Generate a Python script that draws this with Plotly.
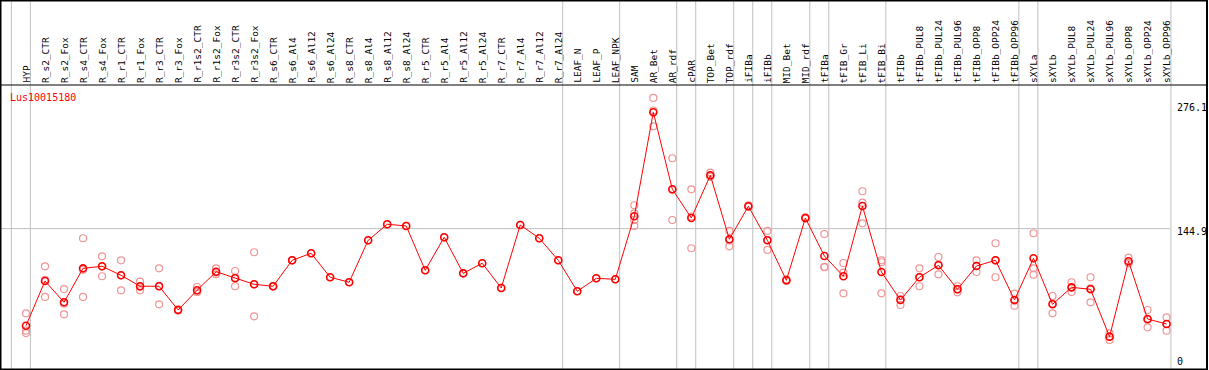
import plotly.graph_objects as go

categories = ["HYP", "R_s2_CTR", "R_s2_Fox", "R_s4_CTR", "R_s4_Fox", "R_r1_CTR", "R_r1_Fox",
              "R_r3_CTR", "R_r3_Fox", "R_r1s2_CTR", "R_r1s2_Fox", "R_r3s2_CTR", "R_r3s2_Fox",
              "R_s6_CTR", "R_s6_Al4", "R_s6_Al12", "R_s6_Al24", "R_s8_CTR", "R_s8_Al4",
              "R_s8_Al12", "R_s8_Al24", "R_r5_CTR", "R_r5_Al4", "R_r5_Al12", "R_r5_Al24",
              "R_r7_CTR", "R_r7_Al4", "R_r7_Al12", "R_r7_Al24", "LEAF_N", "LEAF_P", "LEAF_NPK",
              "SAM", "AR_Bet", "AR_rdf", "cPAR", "TOP_Bet", "TOP_rdf", "iFIBa", "iFIBb",
              "MID_Bet", "MID_rdf", "tFIBa", "tFIB_Gr", "tFIB_Li", "tFIB_Bi", "tFIBb",
              "tFIBb_PUL8", "tFIBb_PUL24", "tFIBb_PUL96", "tFIBb_OPP8", "tFIBb_OPP24",
              "tFIBb_OPP96", "sXYLa", "sXYLb", "sXYLb_PUL8", "sXYLb_PUL24", "sXYLb_PUL96",
              "sXYLb_OPP8", "sXYLb_OPP24", "sXYLb_OPP96"]

means = [36.1, 86.2, 62.3, 100.4, 102.7, 92.6, 80.3, 80.3, 53.7, 75.8, 96.6, 89.2, 82.5,
         80.3, 109.4, 117.3, 90.4, 84.8, 131.8, 149.8, 147.9, 98.2, 135.2, 94.8, 106.1,
         78.4, 149.0, 134.1, 109.4, 74.7, 89.2, 88.1,
         158.7, 275.3, 189.0, 156.8, 204.7, 133.0, 170.0, 131.8, 87.0, 156.8, 114.2,
         91.5, 170.3, 96.3, 64.9, 90.4, 103.8, 76.9, 103.0, 109.4, 64.9,
         111.7, 60.1, 79.1, 76.9, 23.8, 108.3, 43.6, 38.0]

replicates = [
    [50.0, 30.5, 27.8], [102.7, 68.3, 87.6], [77.2, 48.9, 60.8], [134.1, 68.3, 98.8],
    [113.9, 91.5, 102.7], [109.4, 75.8, 92.6], [85.4, 75.8, 79.7], [100.4, 60.1, 80.4],
    [54.5, 53.0, 53.6], [79.5, 74.0, 74.0], [100.4, 93.7, 95.7], [97.4, 80.3, 89.9],
    [118.4, 46.6, 82.5], [80.3, 80.0, 80.6], [109.4, 109.4, 109.4], [117.3], [90.4],
    [84.8], [131.8], [149.8], [147.9], [98.2], [135.2], [94.8], [106.1], [78.4],
    [149.0], [134.1], [109.4], [74.7], [89.2], [88.1],
    [171.1, 162.1, 154.6, 147.9], [291.4, 259.6, 277.3], [223.8, 154.6, 188.6],
    [189.0, 122.9, 158.5], [207.6, 203.0, 204.0], [142.3, 125.1, 131.6],
    [171.0, 169.5, 169.5], [142.3, 121.0, 132.1], [88.0, 86.5, 86.5],
    [157.5, 156.5, 156.4], [138.9, 101.6, 102.1], [106.4, 95.5, 72.4],
    [186.8, 174.0, 150.9], [109.4, 107.2, 72.4], [69.4, 59.3, 66.0],
    [100.4, 80.3, 90.5], [113.1, 93.7, 104.6], [80.3, 73.5, 76.9], [109.4, 96.3, 103.3],
    [128.5, 90.4, 109.3], [72.0, 58.5, 64.2], [139.7, 100.4, 93.3], [69.4, 50.0, 60.9],
    [84.8, 73.9, 78.6], [90.4, 62.3, 78.0], [27.6, 20.1, 23.7], [112.3, 106.0, 106.6],
    [53.7, 34.3, 42.8], [45.5, 30.5, 38.0]]

# group separators are drawn after these category indices
group_ends = [-1, 0, 28, 31, 34, 35, 37, 38, 39, 41, 42, 45, 52, 53, 60]

tick_vals = [276.1, 144.9, 0]
tick_text = ["276.1", "144.9", "0"]
tick_shift = [4, -3, -4]
gene = "Lus10015180"

W, H = 1209, 370
ML, MR, MT, MB = 1, 39, 85, 1
pw = W - ML - MR
ph = H - MT - MB
x_range = [-1.315, 60.18]
y_range = [-12.44, 305.9]

xs = list(range(len(categories)))
rep_x, rep_y = [], []
for i, reps in enumerate(replicates):
    for v in reps:
        rep_x.append(i)
        rep_y.append(v)

fig = go.Figure()
fig.add_trace(go.Scatter(x=rep_x, y=rep_y, mode="markers",
                         marker=dict(symbol="circle-open", size=7, color="#f09595",
                                     line=dict(width=1.2, color="#f09595")),
                         showlegend=False, hoverinfo="skip", cliponaxis=False))
fig.add_trace(go.Scatter(x=xs, y=means, mode="lines+markers",
                         line=dict(color="#ff0000", width=1),
                         marker=dict(symbol="circle-open", size=7, color="#ff0000",
                                     line=dict(width=1.6, color="#ff0000")),
                         showlegend=False, cliponaxis=False))

shapes = []
def xpaper(v):
    return (v - x_range[0]) / (x_range[1] - x_range[0])

top_paper = (ph + MT) / ph
for g in group_ends:
    xp = xpaper(g + 0.23)
    shapes.append(dict(type="line", xref="paper", yref="paper", x0=xp, x1=xp,
                       y0=0, y1=top_paper, line=dict(color="#c0c0c0", width=1), layer="below"))
# horizontal reference line
shapes.append(dict(type="line", xref="paper", yref="y", x0=0, x1=1, y0=tick_vals[1], y1=tick_vals[1],
                   line=dict(color="#c0c0c0", width=1), layer="below"))
# header bottom line
right_edge = (W - 2 - ML) / pw
shapes.append(dict(type="line", xref="paper", yref="paper", x0=-1 / pw, x1=right_edge, y0=1, y1=1,
                   line=dict(color="black", width=1)))
# outer frame
shapes.append(dict(type="rect", xref="paper", yref="paper", x0=-0.5 / pw, x1=right_edge,
                   y0=-0.5 / ph, y1=(ph + MT - 0.5) / ph, line=dict(color="black", width=2),
                   fillcolor="rgba(0,0,0,0)"))

annotations = []
for i, c in enumerate(categories):
    annotations.append(dict(x=i, y=1, xref="x", yref="paper", text=c, textangle=-90,
                            showarrow=False, xanchor="center", yanchor="bottom", yshift=1,
                            font=dict(family="DejaVu Sans Mono", size=9.5, color="black"),
                            borderpad=0))
annotations.append(dict(x=(9 - ML) / pw, y=(H - MB - 97) / ph, xref="paper", yref="paper",
                        text=gene, showarrow=False, xanchor="left", yanchor="middle",
                        font=dict(family="DejaVu Sans Mono", size=10, color="red"), borderpad=0))
for v, t, s in zip(tick_vals, tick_text, tick_shift):
    annotations.append(dict(x=1 + 6 / pw, y=v, xref="paper", yref="y", text=t,
                            showarrow=False, xanchor="left", yanchor="middle", yshift=s,
                            font=dict(family="DejaVu Sans Mono", size=10, color="black"),
                            borderpad=0))

fig.update_layout(width=W, height=H, margin=dict(l=ML, r=MR, t=MT, b=MB, pad=0),
                  paper_bgcolor="white", plot_bgcolor="rgba(0,0,0,0)",
                  xaxis=dict(range=x_range, showgrid=False, zeroline=False, showticklabels=False,
                             ticks="", showline=False, fixedrange=True),
                  yaxis=dict(range=y_range, showgrid=False, zeroline=False, showticklabels=False,
                             ticks="", showline=False, fixedrange=True),
                  shapes=shapes, annotations=annotations, showlegend=False)

fig.write_html("out.html", config={"displayModeBar": False},
               post_script="document.body.style.margin='0';document.body.style.overflow='hidden';")
